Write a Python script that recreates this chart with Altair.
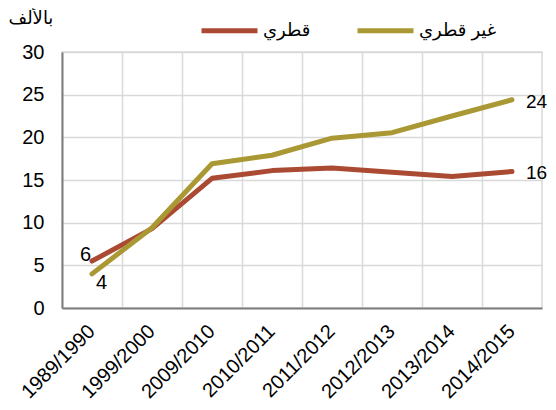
import altair as alt
import pandas as pd

years = ["1989/1990", "1999/2000", "2009/2010", "2010/2011",
         "2011/2012", "2012/2013", "2013/2014", "2014/2015"]
qatari = [5.5, 9.3, 15.2, 16.1, 16.4, 15.9, 15.4, 16.0]
non_qatari = [4.0, 9.4, 16.9, 17.9, 19.9, 20.55, 22.5, 24.4]
series_names = ["قطري", "غير قطري"]
series_colors = ["#AB4A32", "#A99833"]
y_ticks = [0, 5, 10, 15, 20, 25, 30]
unit_title = "بالألف"

start_labels_q = ["6"]
start_labels_nq = ["4"]
end_labels = ["16", "24"]

rows = []
for y, v in zip(years, qatari):
    rows.append({"year": y, "series": series_names[0], "value": v})
for y, v in zip(years, non_qatari):
    rows.append({"year": y, "series": series_names[1], "value": v})
df = pd.DataFrame(rows)

lab_q0 = pd.DataFrame({"year": [years[0]], "value": [qatari[0]], "t": start_labels_q})
lab_nq0 = pd.DataFrame({"year": [years[0]], "value": [non_qatari[0]], "t": start_labels_nq})
lab_end = pd.DataFrame({"year": [years[-1], years[-1]],
                        "value": [qatari[-1], non_qatari[-1]], "t": end_labels})

FONT = "Liberation Sans, Arial, DejaVu Sans, sans-serif"

x_enc = alt.X(
    "year:N", sort=years,
    scale=alt.Scale(type="band", paddingInner=0, paddingOuter=0),
    axis=alt.Axis(
        title=None, grid=True, gridColor="#D9D9D9", gridWidth=1.5,
        ticks=False, domainColor="#7F7F7F", domainWidth=2,
        labelAngle=-45, labelAlign="right", labelBaseline="middle",
        labelFontSize=20, labelPadding=20, bandPosition=0,
        labelOverlap=False, labelColor="#000000", labelFont=FONT,
    ),
)
y_enc = alt.Y(
    "value:Q",
    scale=alt.Scale(domain=[0, 30], nice=False),
    axis=alt.Axis(
        values=y_ticks, title=unit_title, titleAngle=0, titleX=-54, titleY=-29,
        titleAlign="left", titleBaseline="alphabetic", titleFontSize=18,
        titleFontWeight="normal", titleFont=FONT, titleColor="#000000",
        grid=True, gridColor="#D9D9D9", gridWidth=1.5, ticks=False,
        domainColor="#7F7F7F", domainWidth=2, labelFontSize=20,
        labelPadding=18, labelColor="#000000", labelFont=FONT,
    ),
)

lines = alt.Chart(df).mark_line(strokeWidth=5, strokeCap="round", strokeJoin="round").encode(
    x=x_enc, y=y_enc,
    color=alt.Color(
        "series:N",
        scale=alt.Scale(domain=series_names, range=series_colors),
        legend=alt.Legend(
            title=None, orient="none", legendX=137, legendY=-52,
            direction="horizontal", symbolType="stroke", symbolStrokeWidth=5,
            symbolSize=3136, labelFontSize=18, labelOffset=3, columnPadding=36,
            padding=0, labelFont=FONT, labelColor="#000000",
        ),
    ),
    detail="series:N",
)

txt_q0 = alt.Chart(lab_q0).mark_text(align="right", baseline="alphabetic", dx=-1, dy=0,
                                      fontSize=20, font=FONT, color="#000000").encode(
    x=alt.X("year:N", sort=years), y="value:Q", text="t:N")
txt_nq0 = alt.Chart(lab_nq0).mark_text(align="left", baseline="alphabetic", dx=4, dy=15,
                                        fontSize=20, font=FONT, color="#000000").encode(
    x=alt.X("year:N", sort=years), y="value:Q", text="t:N")
txt_end = alt.Chart(lab_end).mark_text(align="left", baseline="middle", dx=14, dy=2,
                                        fontSize=19, font=FONT, color="#000000").encode(
    x=alt.X("year:N", sort=years), y="value:Q", text="t:N")

chart = alt.layer(lines, txt_q0, txt_nq0, txt_end).properties(
    width=480, height=256,
    autosize=alt.AutoSizeParams(type="none"),
    padding={"left": 54, "top": 44, "right": 6, "bottom": 94},
).configure_view(stroke="#D9D9D9", strokeWidth=1.5)

chart.save("out.html", embed_options={"renderer": "svg", "actions": False})
